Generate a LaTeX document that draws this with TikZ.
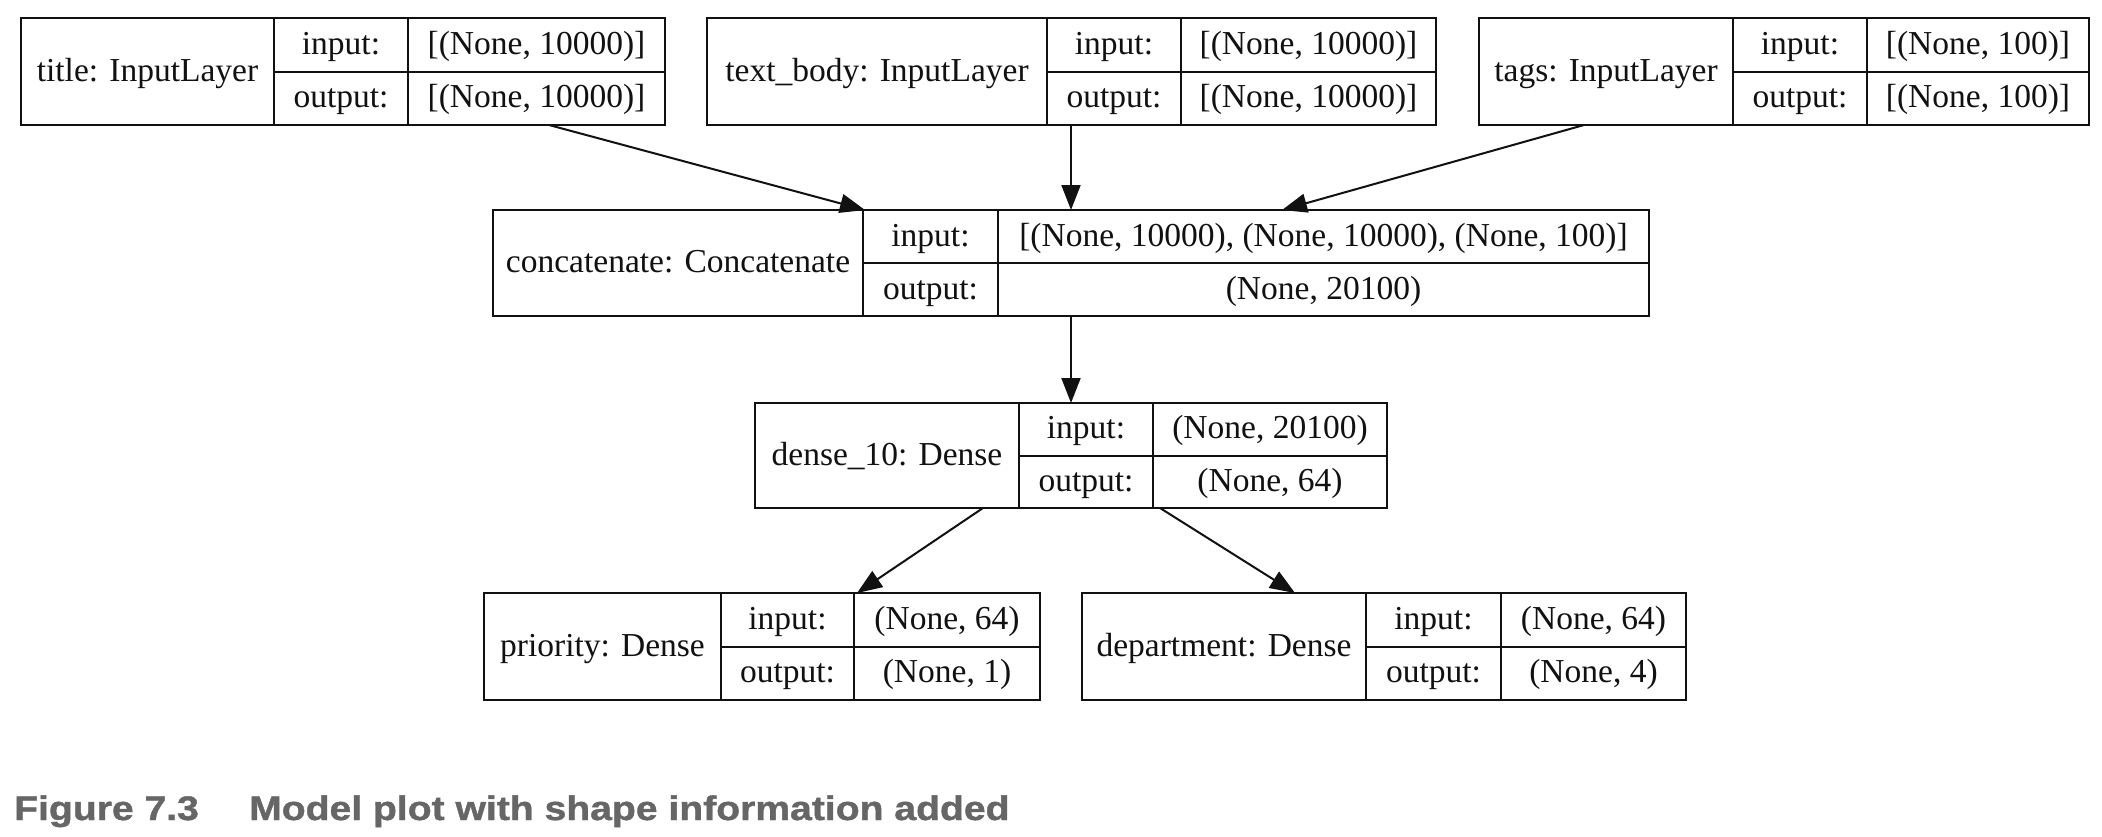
\documentclass[tikz,border=0pt]{standalone}
\usepackage{fontspec}
\setmainfont{Liberation Serif}
\newfontfamily\capfont{Liberation Sans}[FakeStretch=1.15,FakeBold=1.2]
\usetikzlibrary{arrows.meta,calc}
\definecolor{ink}{HTML}{111111}
\definecolor{capgrey}{HTML}{666666}
\tikzset{
  box/.style={draw=ink, line width=2.2pt, inner sep=0pt, outer sep=0pt},
  boxline/.style={draw=ink, line width=2pt},
  txt/.style={font=\fontsize{33.5}{40}\selectfont, text=ink, inner sep=0pt, text height=25pt, text depth=6pt, anchor=center},
  arr/.style={draw=ink, line width=2pt, -{Triangle[length=25pt,width=19pt]}},
  captext/.style={font=\capfont\bfseries\fontsize{34}{40}\selectfont, text=capgrey, inner sep=0pt, anchor=base west},
}
% #1 name, #2 left, #3 divider 1, #4 divider 2, #5 right, #6 top, #7 bottom, #8 label
\newcommand\klayer[8]{%
  \node[box, anchor=north west, minimum width={#5-#2}, minimum height={#7-#6}] (#1) at (#2,-#6) {};
  \coordinate (#1-d1t) at (#3,-#6);
  \coordinate (#1-d1b) at (#3,-#7);
  \coordinate (#1-d2t) at (#4,-#6);
  \coordinate (#1-d2b) at (#4,-#7);
  \coordinate (#1-d1m) at (#3,{-(#6+#7)/2});
  \coordinate (#1-d2m) at (#4,{-(#6+#7)/2});
  \coordinate (#1-mr) at (#5,{-(#6+#7)/2});
  \coordinate (#1-rb) at (#5,-#7);
  \draw[boxline] (#1-d1t) -- (#1-d1b);
  \draw[boxline] (#1-d2t) -- (#1-d2b);
  \draw[boxline] (#1-d1m) -- (#1-mr);
  \node[txt] (#1-name) at ({(#2+#3)/2},{-(#6+#7)/2}) {#8};
}
\newcommand\kio[3]{%
  \node[txt] (#1-inl) at ($(#1-d1t)!0.5!(#1-d2m)$) {input:};
  \node[txt] (#1-outl) at ($(#1-d1m)!0.5!(#1-d2b)$) {output:};
  \node[txt] (#1-inv) at ($(#1-d2t)!0.5!(#1-mr)$) {#2};
  \node[txt] (#1-outv) at ($(#1-d2m)!0.5!(#1-rb)$) {#3};
}
\begin{document}
\begin{tikzpicture}[x=1pt,y=1pt]
\useasboundingbox[fill=white] (0,0) rectangle (2102,-836);

\klayer{title}{21}{274}{408}{665}{18}{125}{title: InputLayer}
\kio{title}{[(None, 10000)]}{[(None, 10000)]}
\klayer{textbody}{707}{1047}{1181}{1436}{18}{125}{text\_body: InputLayer}
\kio{textbody}{[(None, 10000)]}{[(None, 10000)]}
\klayer{tags}{1479}{1733}{1867}{2089}{18}{125}{tags: InputLayer}
\kio{tags}{[(None, 100)]}{[(None, 100)]}

\klayer{concat}{493}{863}{998}{1649}{210}{316}{concatenate: Concatenate}
\kio{concat}{[(None, 10000), (None, 10000), (None, 100)]}{(None, 20100)}

\klayer{dense}{755}{1019}{1153}{1387}{403}{508}{dense\_10: Dense}
\kio{dense}{(None, 20100)}{(None, 64)}

\klayer{priority}{484}{721}{854}{1040}{593}{700}{priority: Dense}
\kio{priority}{(None, 64)}{(None, 1)}
\klayer{department}{1082}{1366}{1501}{1686}{593}{700}{department: Dense}
\kio{department}{(None, 64)}{(None, 4)}

\draw[arr] ([xshift=528pt]title.south west) -- ([xshift=372pt]concat.north west);
\draw[arr] ([xshift=364pt]textbody.south west) -- ([xshift=578pt]concat.north west);
\draw[arr] ([xshift=105pt]tags.south west) -- ([xshift=789pt]concat.north west);
\draw[arr] ([xshift=578pt]concat.south west) -- ([xshift=316pt]dense.north west);
\draw[arr] ([xshift=228pt]dense.south west) -- ([xshift=373pt]priority.north west);
\draw[arr] ([xshift=405pt]dense.south west) -- ([xshift=213pt]department.north west);

\node[captext] (fig) at (14,-820) {Figure 7.3};
\node[captext] (captxt) at (249,-820) {Model plot with shape information added};
\end{tikzpicture}
\end{document}
